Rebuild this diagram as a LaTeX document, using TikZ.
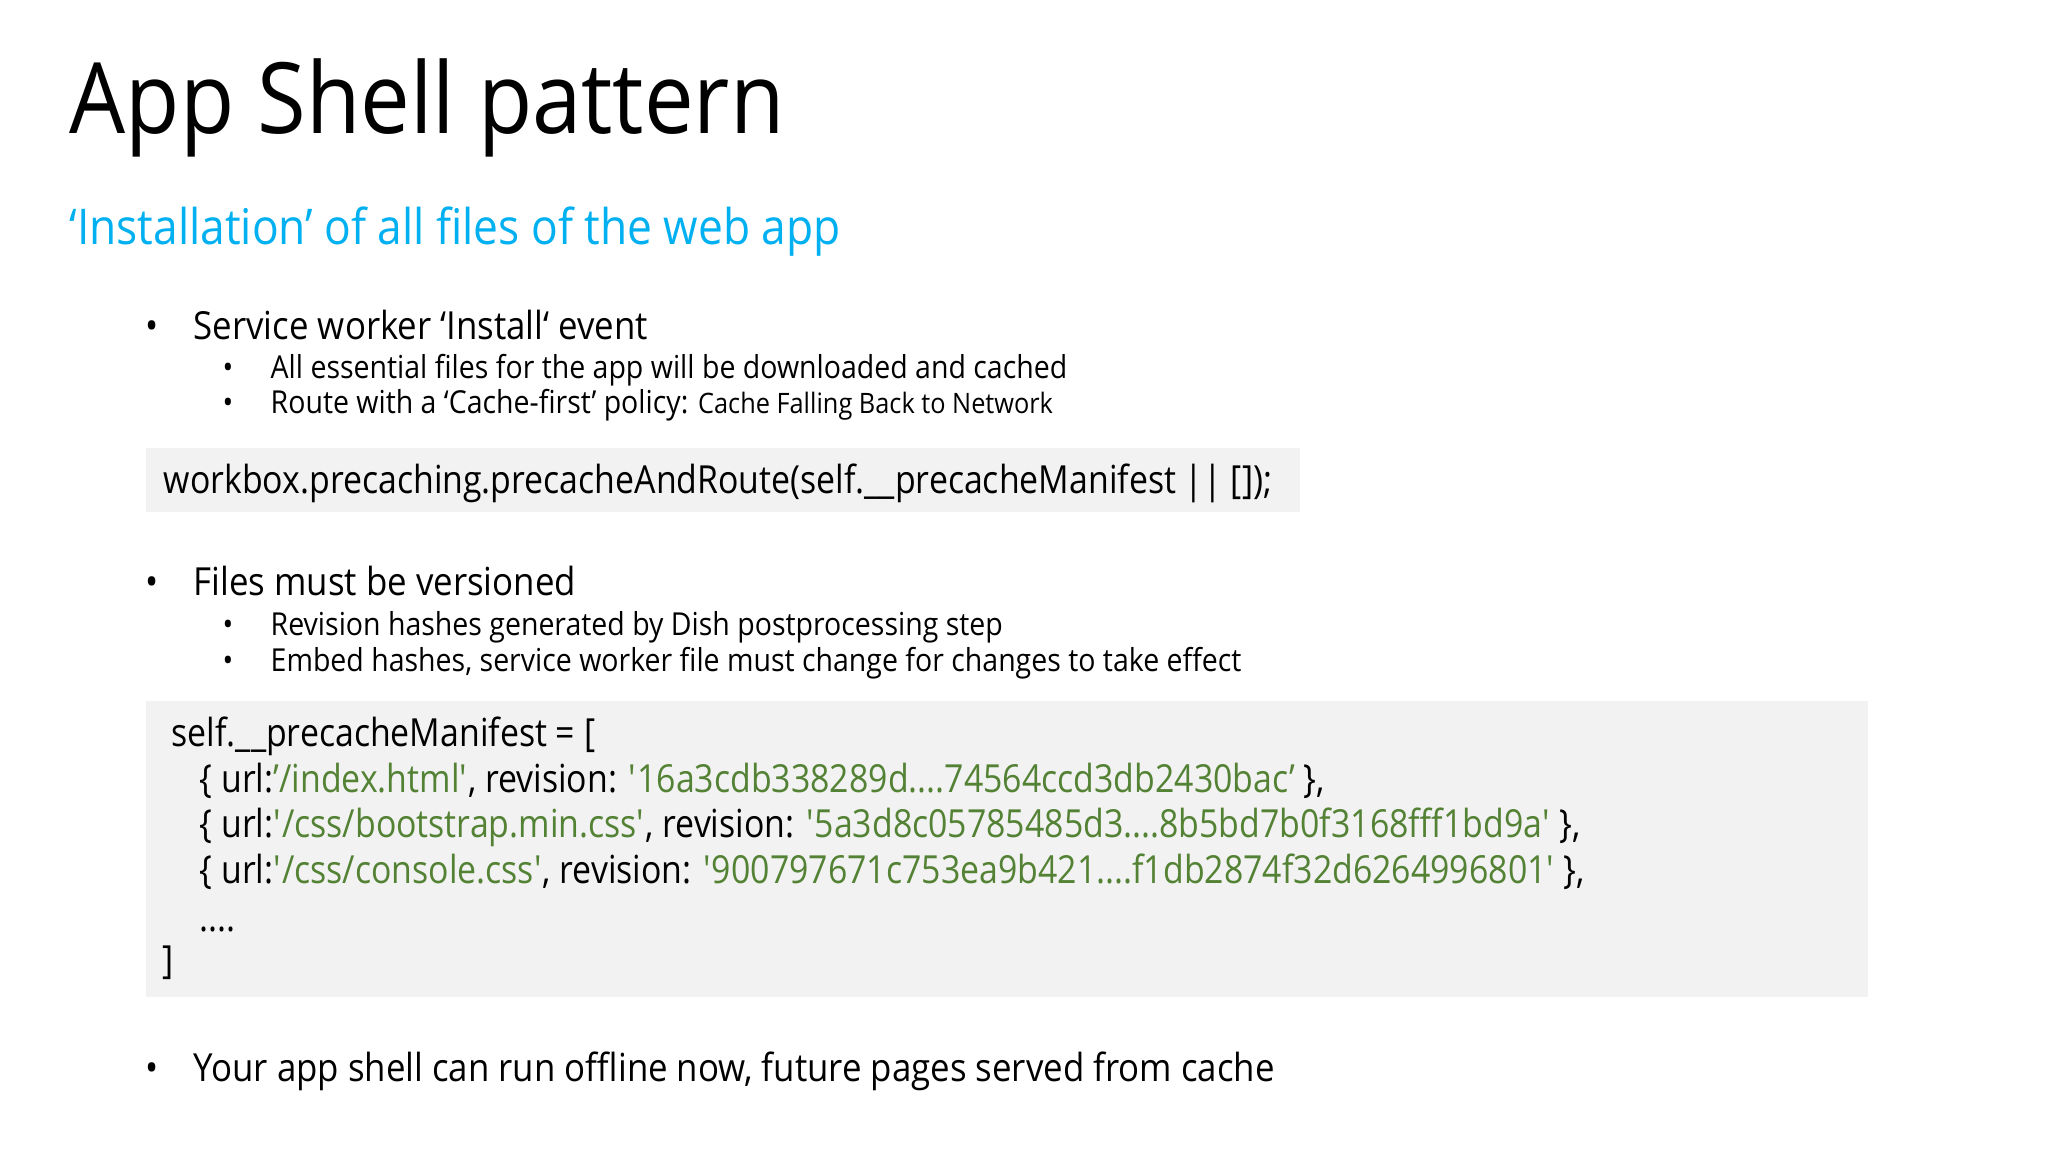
\documentclass[tikz,border=0pt]{standalone}
\usepackage{fontspec}
\setmainfont[FakeStretch=0.9]{Open Sans}
\newfontfamily\codefont[FakeStretch=0.875]{Open Sans}
\definecolor{cyanT}{RGB}{0,176,240}
\definecolor{codeG}{RGB}{84,130,53}
\definecolor{boxG}{RGB}{242,242,242}
\newcommand{\sq}{\textquotesingle}
\begin{document}
\begin{tikzpicture}[x=0.01cm,y=-0.01cm,
  txt/.style={anchor=base west,inner sep=0pt},
  big/.style={txt,font=\fontsize{11}{13}\selectfont},
  code/.style={txt,font=\codefont\fontsize{11}{13}\selectfont},
  small/.style={txt,font=\fontsize{9}{11}\selectfont},
  codebox/.style={fill=boxG,draw=none}]
\useasboundingbox[fill=white] (0,0) rectangle (2048,1152);
\node[txt,font=\fontsize{28}{32}\selectfont] (title) at (69,134) {App Shell pattern};
\node[txt,font=\fontsize{14}{16}\selectfont,text=cyanT] (sub) at (69,245) {‘Installation’ of all files of the web app};
\node[big] (b1d) at (145,340) {•};
\node[big] (b1) at (193,340) {Service worker ‘Install‘ event};
\node[small] (s1d) at (222,379) {•};
\node[small] (s1) at (270,379) {All essential files for the app will be downloaded and cached};
\node[small] (s2d) at (222,414) {•};
\node[small] (s2) at (270,414) {Route with a ‘Cache-first’ policy: {\fontsize{8}{10}\selectfont Cache Falling Back to Network}};
\fill[boxG] (146,448) rectangle (1300,512);
\node[code] (c1) at (163,494) {workbox.precaching.precacheAndRoute(self.\_\_precacheManifest || []);};
\node[big] (b2d) at (145,596) {•};
\node[big] (b2) at (193,596) {Files must be versioned};
\node[small] (s3d) at (222,635) {•};
\node[small] (s3) at (270,635) {Revision hashes generated by Dish postprocessing step};
\node[small] (s4d) at (222,671) {•};
\node[small] (s4) at (270,671) {Embed hashes, service worker file must change for changes to take effect};
\fill[boxG] (146,701) rectangle (1868,997);
\node[code] (l1) at (171,746) {self.\_\_precacheManifest = [};
\node[code] (l2) at (199,792) {\{ url:\textcolor{codeG}{’/index.html\sq}, revision: \textcolor{codeG}{\sq 16a3cdb338289d....74564ccd3db2430bac’} \},};
\node[code] (l3) at (199,837) {\{ url:\textcolor{codeG}{\sq/css/bootstrap.min.css\sq}, revision: \textcolor{codeG}{\sq 5a3d8c05785485d3....8b5bd7b0f3168fff1bd9a\sq} \},};
\node[code] (l4) at (199,883) {\{ url:\textcolor{codeG}{\sq/css/console.css\sq}, revision: \textcolor{codeG}{\sq 900797671c753ea9b421....f1db2874f32d6264996801\sq} \},};
\node[code] (l5) at (199,931) {....};
\node[code] (l6) at (162,973) {]};
\node[big] (b3d) at (145,1081) {•};
\node[big] (b3) at (193,1081) {Your app shell can run offline now, future pages served from cache};
\end{tikzpicture}
\end{document}
